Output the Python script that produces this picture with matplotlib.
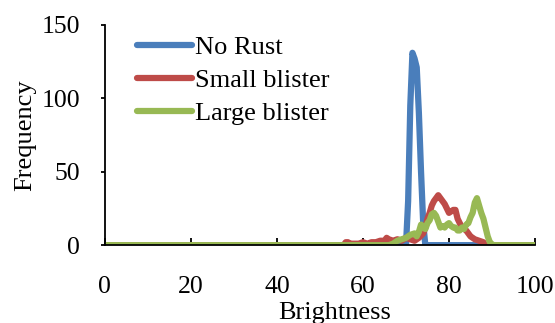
import numpy as np
import matplotlib
matplotlib.use('Agg')
import matplotlib.pyplot as plt

plt.rcParams['font.family'] = ['Liberation Serif', 'DejaVu Serif']

# brightness histograms
blue_x = [0, 70, 70.5, 71, 71.5, 72, 72.5, 73, 73.5, 74, 74.5, 100]
blue_y = [0, 0, 30, 95, 131, 127, 121, 90, 50, 15, 0, 0]

red_x = [0, 55.5, 56, 56.5, 57, 58, 59, 60, 61, 62, 63, 64, 65, 65.5, 66, 67, 68,
         69, 70, 71, 72, 73, 74, 74.5, 75, 75.5, 76, 76.5, 77, 77.5, 78, 78.5, 79,
         79.5, 80, 80.5, 81, 81.5, 82, 82.5, 83, 83.5, 84, 84.5, 85, 85.5, 86, 87,
         88, 88.5, 100]
red_y = [0, 0, 2, 2, 1, 1, 1, 2, 1, 2, 2, 3, 3, 5, 4, 3, 4,
         3, 5, 4, 3, 5, 8, 12, 18, 22, 27, 30, 32, 34, 32, 30, 28,
         25, 22, 23, 24, 24, 18, 15, 12, 11, 10, 8, 6, 5, 4, 3,
         2, 0, 0]

green_x = [0, 66, 67, 68, 69, 70, 71, 72, 72.5, 73, 73.5, 74, 74.5, 75, 75.5, 76,
           76.5, 77, 77.5, 78, 78.5, 79, 79.5, 80, 80.5, 81, 81.5, 82, 82.5, 83,
           83.5, 84, 84.5, 85, 85.5, 86, 86.5, 87, 87.5, 88, 88.5, 89, 89.5, 90,
           90.5, 100]
green_y = [0, 0, 1, 3, 4, 5, 7, 8, 6, 9, 14, 12, 11, 15, 17, 21,
           22, 20, 16, 12, 13, 12, 14, 15, 13, 12, 12, 10, 10, 12,
           11, 14, 15, 19, 22, 29, 32, 27, 22, 18, 12, 6, 2, 0.5,
           0, 0]

fig = plt.figure(figsize=(5.55, 3.23), dpi=100)
ax = fig.add_axes([0.189, 0.241, 0.775, 0.682])

lw = 4.5
ax.plot(blue_x, blue_y, color='#4a7ebb', lw=lw, label='No Rust', solid_capstyle='round')
ax.plot(red_x, red_y, color='#be4b48', lw=lw, label='Small blister', solid_capstyle='round')
ax.plot(green_x, green_y, color='#98b954', lw=lw, label='Large blister', solid_capstyle='round')

ax.set_xlim(0, 100)
ax.set_ylim(0, 150)
ax.set_xticks([0, 20, 40, 60, 80, 100])
ax.set_yticks([0, 50, 100, 150])
for s in ['top', 'right']:
    ax.spines[s].set_visible(False)
ax.spines['left'].set_linewidth(1.3)
ax.spines['bottom'].set_linewidth(1.3)
ax.tick_params(axis='x', direction='in', length=5, width=1.3, pad=22, labelsize=18.5)
ax.tick_params(axis='y', direction='out', length=3, width=1.3, pad=15, labelsize=18.5)

# x label sits low, partly below the figure edge like the original
ax.set_xlabel('Brightness', fontsize=19)
ax.xaxis.set_label_coords(0.535, -0.26)
ax.set_ylabel('Frequency', fontsize=19, labelpad=3.5)

leg = ax.legend(loc='upper left', bbox_to_anchor=(0.05, 1.0), frameon=False,
                fontsize=19, handlelength=2.1, handletextpad=0.1, labelspacing=0.37,
                borderaxespad=0)

fig.savefig('out.png', dpi=100)
